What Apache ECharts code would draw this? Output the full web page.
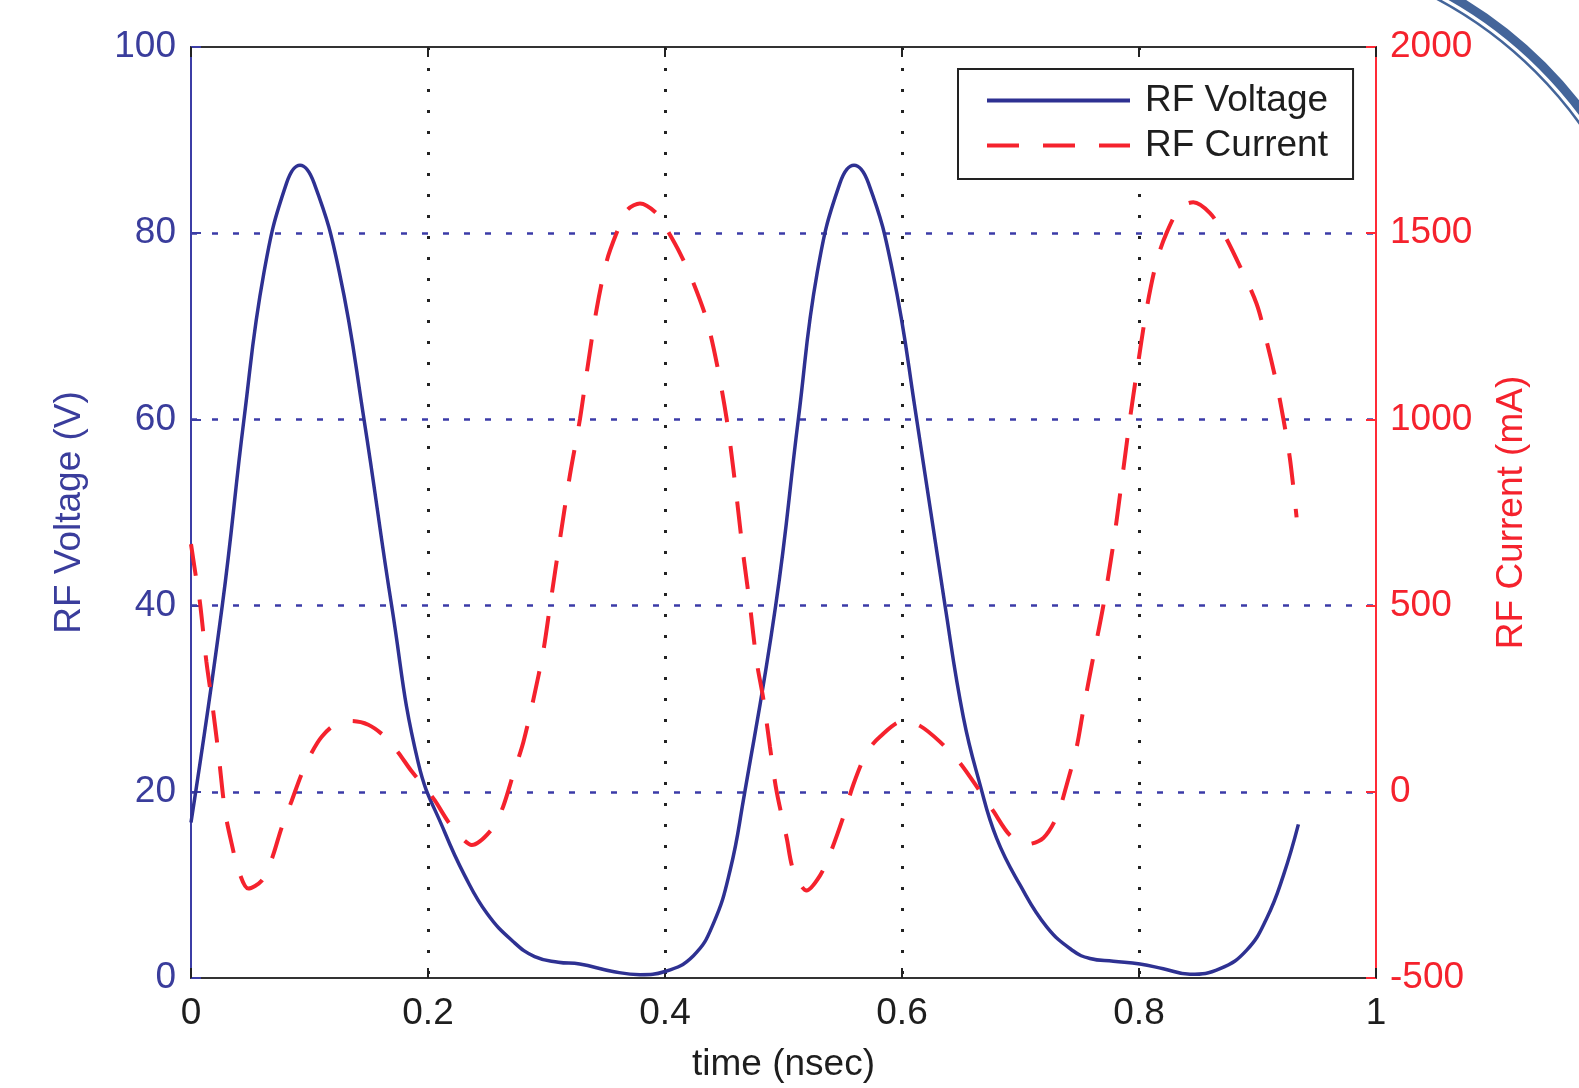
<!DOCTYPE html>
<html>
<head>
<meta charset="utf-8">
<script src="https://cdn.jsdelivr.net/npm/echarts@6/dist/echarts.min.js"></script>
<style>
html,body{margin:0;padding:0;background:#fff;}
#chart{width:1579px;height:1088px;}
</style>
</head>
<body>
<div id="chart"></div>
<script>
// ---- data ----
const timeV = [0, 0.0264, 0.0447, 0.0616, 0.0807, 0.092, 0.1038, 0.1252, 0.146, 0.1693, 0.1918, 0.2143, 0.231, 0.25, 0.272, 0.29, 0.31, 0.328, 0.356, 0.379, 0.400, 0.424, 0.441, 0.455, 0.466, 0.4934, 0.5125, 0.5285, 0.5477, 0.5595, 0.5716, 0.5922, 0.6124, 0.6363, 0.6518, 0.6658, 0.6799, 0.6996, 0.7221, 0.7446, 0.7586, 0.7783, 0.8008, 0.8205, 0.843, 0.8684, 0.8909, 0.9077, 0.9218, 0.9345];
const voltage = [16.7, 40, 60, 75.8, 85.4, 87.3, 85.4, 75.8, 60, 40, 23.1, 15.6, 11, 6.9, 3.9, 2.3, 1.7, 1.5, 0.7, 0.35, 0.7, 2.4, 5.9, 11.6, 19, 40, 60, 75.8, 85.4, 87.3, 85.4, 75.8, 60, 40, 28, 20.8, 15, 10, 5.5, 2.9, 2.1, 1.8, 1.5, 1.0, 0.4, 1.0, 3, 6.4, 11, 16.5];

const timeI = [0, 0.0034, 0.0076, 0.013, 0.0174, 0.0231, 0.0287, 0.0343, 0.04, 0.0484, 0.0596, 0.068, 0.0765, 0.085, 0.0934, 0.1018, 0.1103, 0.1215, 0.1356, 0.1496, 0.1637, 0.175, 0.1862, 0.1975, 0.2059, 0.2172, 0.2284, 0.2369, 0.2551, 0.2636, 0.2720, 0.2805, 0.289, 0.2973, 0.303, 0.3114, 0.3198, 0.3283, 0.3339, 0.3423, 0.3508, 0.3592, 0.3677, 0.3789, 0.3927, 0.4014, 0.4127, 0.4239, 0.4352, 0.4436, 0.452, 0.4577, 0.4661, 0.4717, 0.4774, 0.483, 0.4886, 0.4942, 0.5027, 0.5083, 0.5195, 0.5308, 0.5392, 0.5505, 0.5589, 0.5702, 0.5814, 0.6011, 0.6152, 0.6321, 0.649, 0.6658, 0.6771, 0.6912, 0.7053, 0.7193, 0.7306, 0.739, 0.7474, 0.753, 0.7615, 0.7699, 0.7783, 0.7868, 0.7924, 0.798, 0.8064, 0.8149, 0.8233, 0.8346, 0.8458, 0.8599, 0.8711, 0.8852, 0.8993, 0.9077, 0.9162, 0.9218, 0.9274, 0.933];
const current = [665, 593, 507, 349, 249, 105, -52, -139, -210, -260, -239, -182, -96, -24, 48, 105, 148, 180, 190, 180, 148, 105, 55, 12, -24, -81, -124, -143, -96, -38, 48, 134, 249, 378, 500, 679, 851, 1002, 1124, 1296, 1425, 1501, 1561, 1580, 1554, 1511, 1446, 1367, 1267, 1152, 1002, 866, 636, 500, 349, 249, 120, 1, -124, -210, -265, -225, -167, -67, 19, 105, 148, 190, 177, 134, 77, 1, -52, -117, -141, -124, -67, 19, 120, 220, 363, 500, 665, 866, 1002, 1124, 1296, 1425, 1501, 1568, 1583, 1554, 1501, 1411, 1310, 1210, 1095, 1002, 894, 737];

const xTicks = [0, 0.2, 0.4, 0.6, 0.8, 1];
const leftTicks = [0, 20, 40, 60, 80, 100];
const rightTicks = [-500, 0, 500, 1000, 1500, 2000];
const seriesNames = ['RF Voltage', 'RF Current'];
const axisTitles = { x: 'time (nsec)', left: 'RF Voltage (V)', right: 'RF Current (mA)' };

// ---- styles ----
const FONT = "'Liberation Sans', Arial, sans-serif";
const BLUE = '#2e3192';
const BLUE_TXT = '#3a3d9c';
const RED = '#f5222d';
const DARK = '#1e1e1e';

const zip = (a, b) => a.map((v, i) => [v, b[i]]);

const chart = echarts.init(document.getElementById('chart'), null, { renderer: 'canvas' });
chart.setOption({
  animation: false,
  backgroundColor: '#fff',
  textStyle: { fontFamily: FONT },
  grid: { left: 191, right: 203, top: 47, bottom: 107, show: true, borderColor: '#333', borderWidth: 2, backgroundColor: '#fff' },
  legend: {
    left: 958, top: 69, orient: 'vertical',
    padding: [13, 25, 15, 27],
    itemWidth: 143, itemHeight: 40, itemGap: 8,
    borderColor: '#222', borderWidth: 2, backgroundColor: '#fff',
    itemStyle: { color: 'rgba(0,0,0,0)', borderWidth: 0, borderColor: 'rgba(0,0,0,0)' },
    lineStyle: { width: 4 },
    textStyle: { fontSize: 37, color: DARK, fontFamily: FONT, padding: [0, 0, 0, 10] },
    data: seriesNames
  },
  xAxis: [{
    type: 'value', min: xTicks[0], max: xTicks[xTicks.length - 1], interval: 0.2,
    name: axisTitles.x, nameLocation: 'middle', nameGap: 68,
    nameTextStyle: { fontSize: 37, color: DARK, fontFamily: FONT },
    axisLine: { show: true, onZero: false, lineStyle: { color: '#333', width: 2 } },
    axisTick: { show: true, inside: true, length: 10, lineStyle: { color: '#222', width: 2 } },
    axisLabel: { fontSize: 37, color: DARK, margin: 17, fontFamily: FONT, formatter: v => String(v) },
    splitLine: { show: true, showMinLine: false, showMaxLine: false, lineStyle: { color: '#222', width: 3, type: [3, 18] } }
  }, {
    type: 'value', position: 'top', min: 0, max: 1, interval: 0.2,
    axisLine: { show: true, onZero: false, lineStyle: { color: '#333', width: 2 } },
    axisTick: { show: true, inside: true, length: 10, lineStyle: { color: '#222', width: 2 } },
    axisLabel: { show: false }, splitLine: { show: false }
  }],
  yAxis: [{
    type: 'value', position: 'left', min: leftTicks[0], max: leftTicks[leftTicks.length - 1], interval: 20,
    name: axisTitles.left, nameLocation: 'middle', nameGap: 103, nameRotate: 90,
    nameTextStyle: { fontSize: 37, color: BLUE_TXT, fontFamily: FONT },
    axisLine: { show: true, onZero: false, lineStyle: { color: '#3c3ea6', width: 2 } },
    axisTick: { show: true, inside: true, length: 10, lineStyle: { color: '#3c3ea6', width: 2 } },
    axisLabel: { fontSize: 37, color: BLUE_TXT, margin: 15, fontFamily: FONT, formatter: v => String(v) },
    splitLine: { show: true, showMinLine: false, showMaxLine: false, lineStyle: { color: '#3b3ba8', width: 2.5, type: [6, 15] } }
  }, {
    type: 'value', position: 'right', min: rightTicks[0], max: rightTicks[rightTicks.length - 1], interval: 500,
    name: axisTitles.right, nameLocation: 'middle', nameGap: 117, nameRotate: 90,
    nameTextStyle: { fontSize: 37, color: RED, fontFamily: FONT },
    axisLine: { show: true, onZero: false, lineStyle: { color: '#ff2a36', width: 2 } },
    axisTick: { show: true, inside: true, length: 10, lineStyle: { color: '#ff2a36', width: 2 } },
    axisLabel: { fontSize: 37, color: RED, margin: 14, fontFamily: FONT, formatter: v => String(v) },
    splitLine: { show: false }
  }],
  series: [{
    name: seriesNames[0], type: 'line', xAxisIndex: 0, yAxisIndex: 0,
    data: zip(timeV, voltage), symbol: 'none', smooth: 0.45,
    lineStyle: { color: BLUE, width: 3.5 }, itemStyle: { color: BLUE }, z: 3
  }, {
    name: seriesNames[1], type: 'line', xAxisIndex: 0, yAxisIndex: 1,
    data: zip(timeI, current), symbol: 'none', smooth: 0.3,
    lineStyle: { color: RED, width: 4, type: [32, 24] }, itemStyle: { color: RED }, z: 4
  }],
  graphic: [{
    type: 'arc', silent: true, z: 10,
    shape: { cx: 1241, cy: 367, r: 426, startAngle: -Math.PI / 2, endAngle: 0.2 },
    style: { stroke: '#44659a', lineWidth: 9, fill: null }
  }, {
    type: 'arc', silent: true, z: 10,
    shape: { cx: 1241, cy: 367, r: 417, startAngle: -Math.PI / 2, endAngle: 0.2 },
    style: { stroke: '#44659a', lineWidth: 2.5, fill: null }
  }]
});
</script>
</body>
</html>
